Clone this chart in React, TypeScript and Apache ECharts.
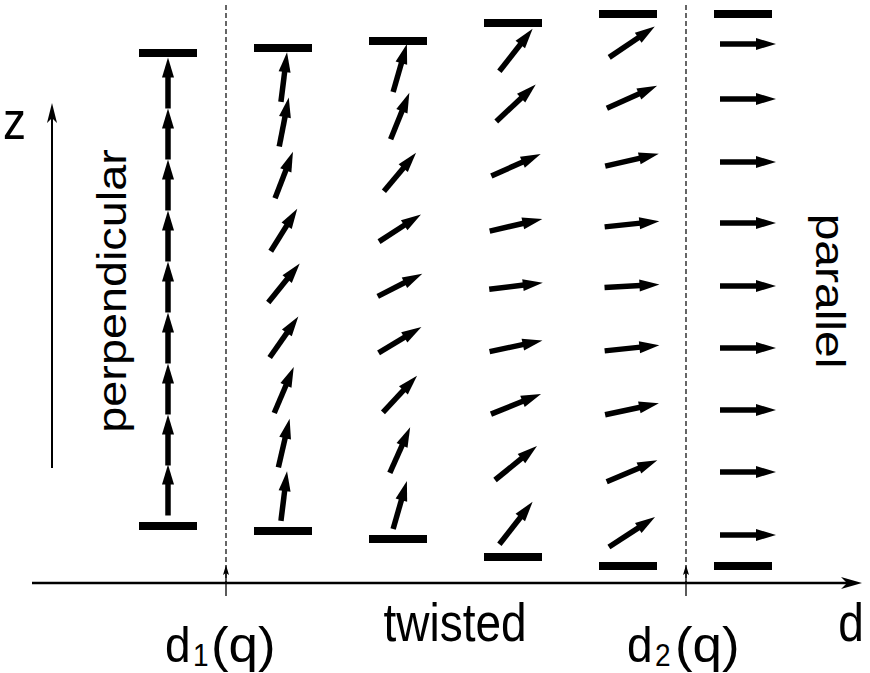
import React, { useEffect, useRef } from "react";
import * as echarts from "echarts";

// ---- data (diagram coordinates, pixel-like units) ----
const COLUMN_X = [168, 284, 400, 516, 632, 748];
const ARROW_LEN = [51, 50, 50, 54, 55, 56];
const Z_COL1 = [83, 134, 185, 236, 287, 338, 389, 440, 490];
const Z_COL2 = [77, 122, 175, 230, 283, 337, 390, 443, 496];
const Z_COL3 = [68, 116, 172, 228, 285, 340, 394, 450, 505];
const Z_COL4 = [50, 103, 165, 225, 286, 346, 404, 463, 523];
const Z_COL5 = [42, 97, 160, 224, 286, 348, 409, 471, 532];
const Z_COL6 = [44, 99, 162, 223, 286, 348, 410, 472, 535];
const TILT_COL1 = [90, 90, 90, 90, 90, 90, 90, 90, 90];
const TILT_COL2 = [83, 79, 69, 58, 51, 55, 67, 77, 83];
const TILT_COL3 = [74, 68, 50, 33, 27, 31, 47, 66, 74];
const TILT_COL4 = [52, 43, 24, 13, 7, 12, 22, 39, 52];
const TILT_COL5 = [34, 24, 13, 6, 3, 6, 12, 23, 33];
const TILT_COL6 = [0, 0, 0, 0, 0, 0, 0, 0, 0];
const Z_COLS = [Z_COL1, Z_COL2, Z_COL3, Z_COL4, Z_COL5, Z_COL6];
const TILT_COLS = [TILT_COL1, TILT_COL2, TILT_COL3, TILT_COL4, TILT_COL5, TILT_COL6];

const PLATE_X = [168, 283, 398, 513, 628, 743];
const PLATE_TOP = [53, 48, 41, 23, 14, 14];
const PLATE_BOTTOM = [526, 531, 539, 557, 566, 566];

const D_MARKS = [226, 686];
const DASH_TOP = 5;
const AXIS_D_Y = 583;
const AXIS_D_X = [32, 862];
const AXIS_Z_X = 52;
const AXIS_Z_Y = [468, 103];

const LABEL_Z = "z";
const LABEL_D = "d";
const LABEL_PERP = "perpendicular";
const LABEL_PAR = "parallel";
const LABEL_TWIST = "twisted";
const LABEL_D1 = ["d", "1", "(q)"];
const LABEL_D2 = ["d", "2", "(q)"];

const FONT = "'Liberation Sans', Arial, Helvetica, sans-serif";

function arrowParts(tail: number[], tip: number[], shaftW: number, headL: number, headW: number, notch: number) {
  const dx = tip[0] - tail[0];
  const dy = tip[1] - tail[1];
  const L = Math.hypot(dx, dy) || 1;
  const ux = dx / L, uy = dy / L;
  const nx = -uy, ny = ux;
  const bx = tip[0] - ux * headL, by = tip[1] - uy * headL;
  const mx = bx + ux * notch, my = by + uy * notch;
  return [
    {
      type: "line",
      shape: { x1: tail[0], y1: tail[1], x2: mx + ux * 1, y2: my + uy * 1 },
      style: { stroke: "#000", lineWidth: shaftW },
    },
    {
      type: "polygon",
      shape: {
        points: [
          [tip[0], tip[1]],
          [bx + (nx * headW) / 2, by + (ny * headW) / 2],
          [mx, my],
          [bx - (nx * headW) / 2, by - (ny * headW) / 2],
        ],
      },
      style: { fill: "#000" },
    },
  ];
}

export default function App() {
  const ref = useRef<HTMLDivElement>(null);
  useEffect(() => {
    document.body.style.margin = "0";
    if (!ref.current) return;
    const chart = echarts.init(ref.current, null, { renderer: "svg" });

    const arrowData: number[][] = [];
    Z_COLS.forEach((zs, c) => {
      zs.forEach((z, i) => arrowData.push([COLUMN_X[c], z, TILT_COLS[c][i], ARROW_LEN[c]]));
    });
    const plateData: number[][] = [];
    PLATE_X.forEach((x, c) => {
      plateData.push([x, PLATE_TOP[c]]);
      plateData.push([x, PLATE_BOTTOM[c]]);
    });
    const dashData = D_MARKS.map((x) => [x, DASH_TOP, x, AXIS_D_Y]);
    const axisData = [
      [AXIS_D_X[0], AXIS_D_Y, AXIS_D_X[1], AXIS_D_Y],
      [AXIS_Z_X, AXIS_Z_Y[0], AXIS_Z_X, AXIS_Z_Y[1]],
      [D_MARKS[0], 596, D_MARKS[0], 565],
      [D_MARKS[1], 596, D_MARKS[1], 565],
    ];
    const axisStyle = [
      { w: 2.5, hl: 21, hw: 12, notch: 6 },
      { w: 2, hl: 20, hw: 10, notch: 5 },
      { w: 1.3, hl: 10, hw: 6, notch: 2 },
      { w: 1.3, hl: 10, hw: 6, notch: 2 },
    ];

    const txt = (
      text: string,
      x: number,
      y: number,
      size: number,
      sx: number,
      sy: number,
      rotation = 0,
      align = "left"
    ) => ({
      type: "text",
      x,
      y,
      scaleX: sx,
      scaleY: sy,
      rotation,
      style: {
        text,
        fontSize: size,
        fontFamily: FONT,
        fill: "#000",
        align,
        verticalAlign: "middle",
      },
    });

    chart.setOption({
      animation: false,
      grid: { left: 0, right: 0, top: 0, bottom: 0 },
      xAxis: { type: "value", min: 0, max: 870, show: false },
      yAxis: { type: "value", min: 0, max: 673, inverse: true, show: false },
      series: [
        {
          type: "custom",
          coordinateSystem: "cartesian2d",
          data: dashData,
          renderItem: (_p: any, api: any) => {
            const a = api.coord([api.value(0), api.value(1)]);
            const b = api.coord([api.value(2), api.value(3)]);
            return {
              type: "line",
              shape: { x1: a[0], y1: a[1], x2: b[0], y2: b[1] },
              style: { stroke: "#000", lineWidth: 1.2, lineDash: [5, 3] },
            };
          },
        },
        {
          type: "custom",
          coordinateSystem: "cartesian2d",
          data: plateData,
          renderItem: (_p: any, api: any) => {
            const c = api.coord([api.value(0), api.value(1)]);
            return {
              type: "rect",
              shape: { x: c[0] - 29, y: c[1] - 4, width: 58, height: 8 },
              style: { fill: "#000" },
            };
          },
        },
        {
          type: "custom",
          coordinateSystem: "cartesian2d",
          data: arrowData,
          renderItem: (_p: any, api: any) => {
            const c = api.coord([api.value(0), api.value(1)]);
            const ang = (api.value(2) * Math.PI) / 180;
            const L = api.value(3);
            const ux = Math.cos(ang), uy = -Math.sin(ang);
            const tail = [c[0] - (ux * L) / 2, c[1] - (uy * L) / 2];
            const tip = [c[0] + (ux * L) / 2, c[1] + (uy * L) / 2];
            return { type: "group", children: arrowParts(tail, tip, 5.5, 20, 12, 0) };
          },
        },
        {
          type: "custom",
          coordinateSystem: "cartesian2d",
          data: axisData,
          renderItem: (p: any, api: any) => {
            const a = api.coord([api.value(0), api.value(1)]);
            const b = api.coord([api.value(2), api.value(3)]);
            const s = axisStyle[p.dataIndex];
            return { type: "group", children: arrowParts(a, b, s.w, s.hl, s.hw, s.notch) };
          },
        },
      ],
      graphic: [
        txt(LABEL_Z, 3, 121, 46, 1, 1.15),
        txt(LABEL_PERP, 112, 291, 40, 1.17, 1, Math.PI / 2, "center"),
        txt(LABEL_PAR, 830, 291, 41, 1.17, 1, -Math.PI / 2, "center"),
        txt(LABEL_TWIST, 455, 623, 46, 1, 1.15, 0, "center"),
        txt(LABEL_D, 851, 623, 46, 1, 1.15, 0, "center"),
        txt(LABEL_D1[0], 165, 644, 46, 1, 1.1),
        txt(LABEL_D1[1], 193, 655, 28, 1, 1.1),
        txt(LABEL_D1[2], 211, 644, 46, 1.15, 1.1),
        txt(LABEL_D2[0], 627, 644, 46, 1, 1.1),
        txt(LABEL_D2[1], 655, 655, 28, 1, 1.1),
        txt(LABEL_D2[2], 675, 644, 46, 1.15, 1.1),
      ],
    });
    return () => chart.dispose();
  }, []);
  return <div ref={ref} style={{ width: 870, height: 673 }} />;
}
